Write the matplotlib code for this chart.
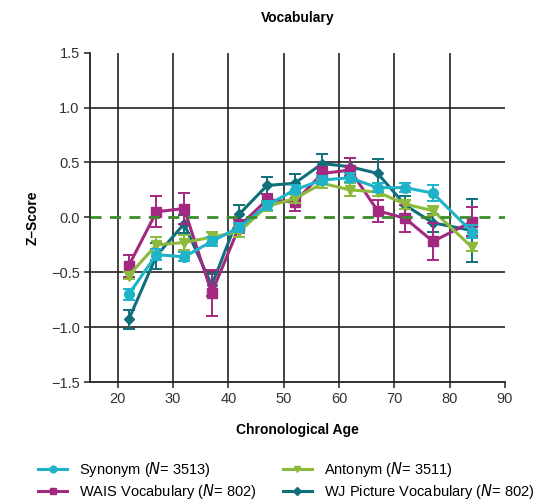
import matplotlib.pyplot as plt
from matplotlib.lines import Line2D

plt.rcParams['font.family'] = ['Liberation Sans', 'DejaVu Sans']

ages = [22, 27, 32, 37, 42, 47, 52, 57, 62, 67, 72, 77, 84]

synonym = [-0.70, -0.34, -0.36, -0.22, -0.09, 0.11, 0.25, 0.34, 0.36, 0.27, 0.27, 0.22, -0.13]
synonym_err = [0.05, 0.05, 0.04, 0.04, 0.04, 0.04, 0.04, 0.04, 0.04, 0.04, 0.04, 0.07, 0.06]

wais = [-0.44, 0.05, 0.08, -0.69, -0.08, 0.16, 0.14, 0.40, 0.43, 0.06, -0.01, -0.22, -0.04]
wais_err = [0.10, 0.14, 0.14, 0.21, 0.06, 0.05, 0.08, 0.06, 0.11, 0.10, 0.12, 0.17, 0.13]

antonym = [-0.53, -0.25, -0.23, -0.18, -0.13, 0.10, 0.17, 0.31, 0.25, 0.23, 0.12, 0.06, -0.27]
antonym_err = [0.03, 0.07, 0.07, 0.05, 0.05, 0.04, 0.04, 0.04, 0.06, 0.04, 0.04, 0.04, 0.04]

wj = [-0.93, -0.35, -0.06, -0.62, 0.03, 0.29, 0.31, 0.49, 0.46, 0.40, 0.11, -0.05, -0.12]
wj_err = [0.09, 0.12, 0.08, 0.10, 0.08, 0.08, 0.08, 0.09, 0.08, 0.13, 0.08, 0.08, 0.29]

series = [
    ("Synonym ($\\mathit{N}$= 3513)", synonym, synonym_err, "#1fb3c9", "o", 7, 5),
    ("WAIS Vocabulary ($\\mathit{N}$= 802)", wais, wais_err, "#a3287f", "s", 6.5, 3),
    ("Antonym ($\\mathit{N}$= 3511)", antonym, antonym_err, "#8cba3c", "v", 6.5, 4),
    ("WJ Picture Vocabulary ($\\mathit{N}$= 802)", wj, wj_err, "#0f6f7b", "D", 5.5, 2),
]

fig = plt.figure(figsize=(5.56, 5.01), dpi=100)
ax = fig.add_axes([0.162, 0.2375, 0.746, 0.6575])

# grid lines drawn by hand (the zero line is the dashed one)
for x in range(20, 90, 10):
    ax.axvline(x, color="#222222", lw=1.2, zorder=1)
for y in [-1.0, -0.5, 0.5, 1.0]:
    ax.axhline(y, color="#222222", lw=1.2, zorder=1)
ax.axhline(0, color="#3c8c2c", lw=2, ls=(0, (4, 3)), zorder=6)

handles = []
for label, vals, errs, col, mk, ms, z in series:
    ax.errorbar(ages, vals, yerr=errs, color=col, marker=mk, ms=ms, lw=2.2,
                elinewidth=1.4, capsize=4, capthick=1.4, zorder=z)
    handles.append(Line2D([], [], color=col, marker=mk, ms=ms * 0.7, lw=2.2, label=label))

ax.set_xlim(15, 90)
ax.set_ylim(-1.5, 1.5)
ax.set_xticks(range(20, 100, 10))
ax.set_yticks([-1.5, -1.0, -0.5, 0.0, 0.5, 1.0, 1.5])
ax.set_yticklabels(["\u22121.5", "\u22121.0", "\u22120.5", "0.0", "0.5", "1.0", "1.5"])
ax.tick_params(labelsize=10.5, colors="#333333", length=4, width=1.2)
for s in ["top", "right"]:
    ax.spines[s].set_visible(False)
for s in ["left", "bottom"]:
    ax.spines[s].set_linewidth(1.3)
    ax.spines[s].set_color("#222222")

ax.set_title("Vocabulary", fontsize=10, fontweight="bold", pad=22)
ax.set_xlabel("Chronological Age", fontsize=10, fontweight="bold", labelpad=12)
ax.set_ylabel("Z\u2013Score", fontsize=10, fontweight="bold", labelpad=8)

fig.legend(handles=handles, loc="lower left", bbox_to_anchor=(0.045, -0.027), ncol=2,
           frameon=False, fontsize=10.5, handlelength=2.0, columnspacing=1.8,
           labelspacing=0.25, handletextpad=0.8)

fig.savefig("out.png", dpi=100)
